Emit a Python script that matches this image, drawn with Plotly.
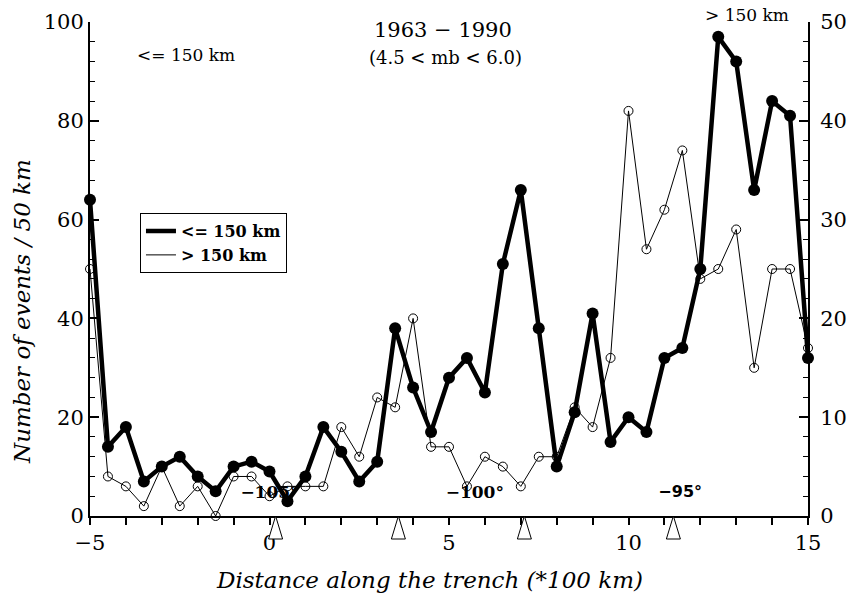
import plotly.graph_objects as go

# ---------------- data ----------------
distance = [-5, -4.5, -4, -3.5, -3, -2.5, -2, -1.5, -1, -0.5, 0, 0.5, 1, 1.5, 2, 2.5,
            3, 3.5, 4, 4.5, 5, 5.5, 6, 6.5, 7, 7.5, 8, 8.5, 9, 9.5, 10, 10.5, 11,
            11.5, 12, 12.5, 13, 13.5, 14, 14.5, 15]
shallow = [64, 14, 18, 7, 10, 12, 8, 5, 10, 11, 9, 3, 8, 18, 13, 7, 11, 38, 26, 17,
           28, 32, 25, 51, 66, 38, 10, 21, 41, 15, 20, 17, 32, 34, 50, 97, 92, 66,
           84, 81, 32]
deep = [25, 4, 3, 1, 5, 1, 3, 0, 4, 4, 2, 3, 3, 3, 9, 6, 12, 11, 20, 7, 7, 3, 6, 5,
        3, 6, 6, 11, 9, 16, 41, 27, 31, 37, 24, 25, 29, 15, 25, 25, 17]

x_tick_vals = list(range(-5, 16))
x_tick_labels = {-5: "\u22125", 0: "0", 5: "5", 10: "10", 15: "15"}

triangle_x = [0.17, 3.59, 7.1, 11.25]

lon_ref = -105          # longitude at distance 0
deg_size = 1.144        # (*100 km) per degree of longitude along the trench
lon_labels = [-105, -100, -95]
lon_label_text = ["\u2212105\u00b0", "\u2212100\u00b0", "\u221295\u00b0"]

SERIF = "DejaVu Serif"

fig = go.Figure()

# longitude labels (drawn beneath the data lines)
lon_label_x = [(l - lon_ref) * deg_size for l in lon_labels]
fig.add_trace(go.Scatter(
    x=lon_label_x, y=[4.6, 4.6, 4.6], mode="text", text=lon_label_text,
    textfont=dict(family=[SERIF, SERIF, "DejaVu Sans"], size=[17, 17, 16], color="black",
                  weight="bold"),
    showlegend=False, hoverinfo="skip", cliponaxis=False))

fig.add_trace(go.Scatter(
    x=distance, y=shallow, mode="lines+markers", name="&lt;= 150 km",
    line=dict(color="black", width=4.5),
    marker=dict(symbol="circle", size=12, color="black"),
    showlegend=False, cliponaxis=False))

fig.add_trace(go.Scatter(
    x=distance, y=deep, mode="lines+markers", name="&gt; 150 km", yaxis="y2",
    line=dict(color="black", width=1),
    marker=dict(symbol="circle-open", size=9, color="black", line=dict(width=1)),
    showlegend=False, cliponaxis=False))

# legend samples (lines only)
fig.add_trace(go.Scatter(x=[None], y=[None], mode="lines", name="&lt;= 150 km",
                         line=dict(color="black", width=4.5)))
fig.add_trace(go.Scatter(x=[None], y=[None], mode="lines", name="&gt; 150 km",
                         line=dict(color="black", width=1)))

# open triangles below the axis
for tx in triangle_x:
    fig.add_shape(type="path", xref="x", yref="paper", xsizemode="pixel",
                  ysizemode="pixel", xanchor=tx, yanchor=0,
                  path="M0,0 L-7,-23 L7,-23 Z",
                  line=dict(color="black", width=1), fillcolor="white")

axis_font = dict(family=SERIF, size=21, color="black")
title_font = dict(family=SERIF, size=23, style="italic", color="black")

fig.update_layout(
    width=849, height=598,
    margin=dict(l=90, r=41, t=22, b=82, autoexpand=False),
    paper_bgcolor="white", plot_bgcolor="white",
    xaxis=dict(range=[-5, 15], tickmode="array", tickvals=x_tick_vals,
               ticktext=[x_tick_labels.get(v, "") for v in x_tick_vals],
               ticks="outside", ticklen=7, tickwidth=1.5, tickcolor="black",
               showline=True, linewidth=2, linecolor="black", showgrid=False,
               zeroline=False, tickfont=axis_font, ticklabelstandoff=0,
               automargin=False),
    xaxis2=dict(overlaying="x", side="bottom", anchor="y",
                range=[lon_ref - 5 / deg_size, lon_ref + 15 / deg_size],
                tickmode="linear", tick0=0, dtick=1, ticks="inside", ticklen=7,
                tickwidth=1.5, tickcolor="black", showticklabels=False,
                showline=False, showgrid=False, zeroline=False, automargin=False),
    yaxis=dict(range=[0, 100], tickmode="linear", tick0=0, dtick=20,
               ticks="inside", ticklen=9, tickwidth=1.5, tickcolor="black",
               minor=dict(dtick=4, ticks="inside", ticklen=5, tickwidth=1, tickcolor="black"),
               showline=True, linewidth=2, linecolor="black", showgrid=False,
               zeroline=False, tickfont=axis_font, automargin=False),
    yaxis2=dict(range=[0, 50], overlaying="y", side="right", anchor="x",
                tickmode="linear", tick0=0, dtick=10, ticks="inside", ticklen=9,
                tickwidth=1.5, tickcolor="black",
                minor=dict(dtick=2, ticks="inside", ticklen=5, tickwidth=1, tickcolor="black"),
                showline=True, linewidth=2, linecolor="black", showgrid=False,
                zeroline=False, tickfont=axis_font, automargin=False,
                ticklabelstandoff=6),
    legend=dict(x=0.0696, y=0.613, xanchor="left", yanchor="top",
                bordercolor="black", borderwidth=1, bgcolor="white",
                font=dict(family=SERIF, size=16, color="black", weight="bold"),
                itemwidth=30, tracegroupgap=0),
    showlegend=True,
    annotations=[
        dict(text="1963 \u2212 1990", xref="paper", yref="paper", x=0.4916, y=0.984,
             xanchor="center", yanchor="middle",
             showarrow=False, font=dict(family=SERIF, size=21, color="black")),
        dict(text="(4.5 &lt; mb &lt; 6.0)", xref="paper", yref="paper", x=0.4945, y=0.929,
             xanchor="center", yanchor="middle",
             showarrow=False, font=dict(family=SERIF, size=18, color="black")),
        dict(text="&lt;= 150 km", xref="paper", yref="paper", x=0.134, y=0.933,
             xanchor="center", yanchor="middle",
             showarrow=False, font=dict(family=SERIF, size=17, color="black")),
        dict(text="&gt; 150 km", xref="paper", yref="paper", x=0.915, y=1.014,
             xanchor="center", yanchor="middle",
             showarrow=False, font=dict(family=SERIF, size=17, color="black")),
        dict(text="Distance along the trench (*100 km)", xref="paper", yref="paper",
             x=0.4735, y=-0.1296, xanchor="center", yanchor="middle",
             showarrow=False, font=title_font),
        dict(text="Number of events / 50 km", xref="paper", yref="paper",
             x=-0.0947, y=0.413, xanchor="center", yanchor="middle", textangle=-90,
             showarrow=False, font=title_font),
    ],
)

fig.write_html("out.html")
